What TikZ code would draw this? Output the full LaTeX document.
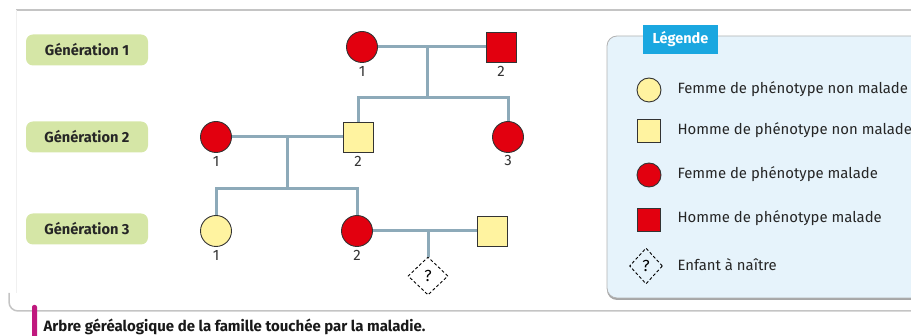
\documentclass[tikz,border=0pt]{standalone}
\usepackage{fontspec}
\setmainfont{Fira Sans}
\usetikzlibrary{shapes.geometric}
\definecolor{sick}{HTML}{E2000F}
\definecolor{healthy}{HTML}{FFF3A0}
\definecolor{linkc}{HTML}{8DAAB9}
\definecolor{genfill}{HTML}{D5E6A6}
\definecolor{legfill}{HTML}{E6F3FB}
\definecolor{tabc}{HTML}{1AA7E0}
\definecolor{capbar}{HTML}{C0197E}
\definecolor{framec}{HTML}{C4C4C4}
\definecolor{ink}{HTML}{333333}

\begin{document}
\begin{tikzpicture}[x=1pt,y=-1pt,
  fem/.style={circle,draw=ink,line width=0.9pt,minimum size=31pt,inner sep=0pt},
  mal/.style={rectangle,draw=ink,line width=0.9pt,minimum size=30pt,inner sep=0pt},
  ill/.style={fill=sick},
  ok/.style={fill=healthy},
  link/.style={draw=linkc,line width=3pt},
  num/.style={font=\fontsize{15}{15}\selectfont,text=ink},
  genbox/.style={rounded corners=7pt,fill=genfill,minimum width=122pt,minimum height=31pt,
    inner sep=0pt,font=\fontsize{14.6}{15}\selectfont\bfseries,text=black!85},
  unborn/.style={diamond,draw=black,dash pattern=on 3pt off 2.2pt,line width=0.9pt,
    minimum width=40pt,minimum height=38pt,inner sep=0pt,font=\fontsize{16}{16}\selectfont},
  legtext/.style={anchor=west,font=\fontsize{14.9}{15}\selectfont,text=black!85},
]
\useasboundingbox (0,0) rectangle (911,336);
\clip (0,0) rectangle (911,336);

% frame lines
\draw[framec,line width=1.3pt] (16,10) -- (911,10);
\draw[black!6,line width=0.8pt] (16,10) -- (16,293);
\draw[framec,line width=1.5pt,rounded corners=9pt] (9,293) -- (9,311) -- (911,311);

% generation labels
\node[genbox] (g1) at (87,50) {Génération 1};
\node[genbox] (g2) at (87,137) {Génération 2};
\node[genbox] (g3) at (87,229) {Génération 3};

% generation 1
\node[fem,ill] (I1) at (362,47) {};
\node[mal,ill] (I2) at (501,47) {};
% generation 2
\node[fem,ill] (II1) at (216,137) {};
\node[mal,ok]  (II2) at (358,137) {};
\node[fem,ill] (II3) at (508,137) {};
% generation 3
\node[fem,ok]  (III1) at (216,231) {};
\node[fem,ill] (III2) at (357,231) {};
\node[mal,ok]  (III3) at (492,231) {};
\node[unborn]  (IV1) at (428,276) {?};

% individual numbers
\node[num] at (362,71) {1};
\node[num] at (501,71) {2};
\node[num] at (216,161) {1};
\node[num] at (358,161) {2};
\node[num] at (508,161) {3};
\node[num] at (216,255) {1};
\node[num] at (357,255) {2};

% links
\coordinate (c1) at (427,47);
\coordinate (s1) at (427,98);
\coordinate (c2) at (287,137);
\coordinate (s2) at (287,189);
\coordinate (c3) at (428,231);

\draw[link] (I1) -- (I2);
\draw[link] (c1) -- (s1);
\draw[link] (II2.north) |- (s1) -| (II3.north);

\draw[link] (II1) -- (II2);
\draw[link] (c2) -- (s2);
\draw[link] (III1.north) |- (s2) -| (III2.north);

\draw[link] (III2) -- (III3);
\draw[link] (c3) -- (IV1.north);

% legend
\fill[black!35,rounded corners=10pt] (607,38) rectangle (960,300);
\filldraw[fill=legfill,draw=black!30,line width=0.8pt,rounded corners=10pt] (607,36) rectangle (960,298);
\node[fill=tabc,text=white,font=\fontsize{14.5}{14.5}\selectfont\bfseries,
  minimum width=75pt,minimum height=29pt,inner sep=0pt] (tab) at (680.5,39.5) {Légende};

\node[fem,ok,minimum size=24pt]  (L1) at (649,90) {};
\node[mal,ok,minimum size=23pt]  (L2) at (649,131) {};
\node[fem,ill,minimum size=24pt] (L3) at (649,175) {};
\node[mal,ill,minimum size=23pt] (L4) at (649,220) {};
\node[unborn,minimum width=33pt,minimum height=36pt] (L5) at (646,266) {?};

\node[legtext] (t1) at (674,89) {Femme de phénotype non malade};
\node[legtext] (t2) at (674,130) {Homme de phénotype non malade};
\node[legtext] (t3) at (674,174) {Femme de phénotype malade};
\node[legtext] (t4) at (674,218) {Homme de phénotype malade};
\node[legtext] (t5) at (674,265) {Enfant à naître};

% caption
\fill[capbar,rounded corners=2pt] (32,305) rectangle (37,340);
\node[anchor=base west,font=\fontsize{15}{15}\selectfont\bfseries,text=black!90] (cap) at (40,332)
  {Arbre géréalogique de la famille touchée par la maladie.};
\end{tikzpicture}
\end{document}
